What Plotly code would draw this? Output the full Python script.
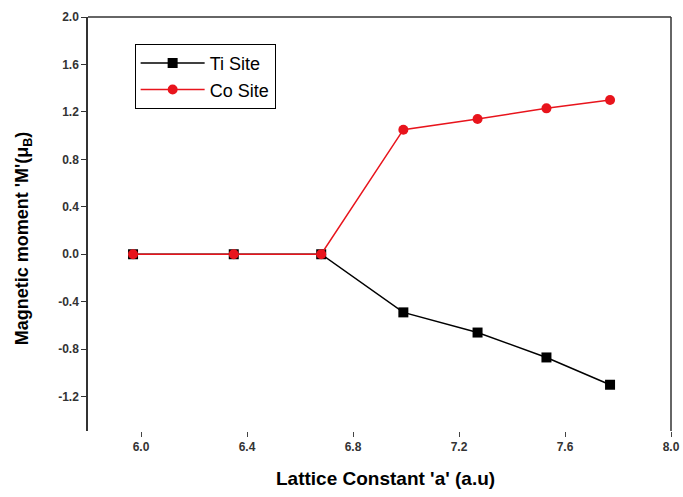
import plotly.graph_objects as go

lattice = [5.97, 6.35, 6.68, 6.99, 7.27, 7.53, 7.77]
ti_site = [0.0, 0.0, 0.0, -0.49, -0.66, -0.87, -1.10]
co_site = [0.0, 0.0, 0.0, 1.05, 1.14, 1.23, 1.30]
x_ticks = [6.0, 6.4, 6.8, 7.2, 7.6, 8.0]
y_ticks = [-1.2, -0.8, -0.4, 0.0, 0.4, 0.8, 1.2, 1.6, 2.0]

FONT = "Liberation Sans, Arial, sans-serif"

fig = go.Figure()
fig.add_trace(go.Scatter(x=lattice, y=ti_site, mode="lines+markers", name="Ti Site",
                         line=dict(color="black", width=1.5),
                         marker=dict(symbol="square", size=10, color="black")))
fig.add_trace(go.Scatter(x=lattice, y=co_site, mode="lines+markers", name="Co Site",
                         line=dict(color="#e8141c", width=1.5),
                         marker=dict(symbol="circle", size=10, color="#e8141c")))

fig.update_layout(
    width=683, height=497,
    margin=dict(l=88, r=12, t=17, b=66, autoexpand=False),
    paper_bgcolor="white", plot_bgcolor="white",
    font=dict(family=FONT, color="#222"),
    showlegend=True,
    legend=dict(x=0.08, y=0.935, xanchor="left", yanchor="top",
                bgcolor="white", bordercolor="black", borderwidth=1,
                font=dict(size=18, color="black", family=FONT), tracegroupgap=0,
                itemwidth=64),
    xaxis=dict(range=[5.8, 8.0], tickvals=x_ticks, ticktext=[f"<b>{v:.1f}</b>" for v in x_ticks],
               showgrid=False, zeroline=False, showline=False, automargin=False,
               ticks="outside", ticklen=5, tickcolor="#444",
               tickfont=dict(size=12, family=FONT, color="#333")),
    yaxis=dict(range=[-1.49, 2.0], tickvals=y_ticks, ticktext=[f"<b>{v:.1f}</b>" for v in y_ticks],
               showgrid=False, zeroline=False, showline=True, linecolor="#333", linewidth=1.5,
               automargin=False,
               ticks="outside", ticklen=5, tickcolor="#333",
               tickfont=dict(size=12, family=FONT, color="#333")),
    annotations=[
        dict(text="<b>Lattice Constant 'a' (a.u)</b>", xref="paper", yref="paper",
             x=0.51, y=-0.115, xanchor="center", yanchor="middle", showarrow=False,
             font=dict(size=19, color="black", family=FONT)),
        dict(text="<b>Magnetic moment 'M'(μ<sub>B</sub>)</b>", xref="paper", yref="paper",
             x=-0.11, y=0.465, xanchor="center", yanchor="middle", showarrow=False,
             textangle=-90, font=dict(size=18, color="black", family=FONT)),
    ],
    shapes=[
        dict(type="line", xref="paper", yref="paper", x0=0, x1=1, y0=1, y1=1,
             line=dict(color="#333", width=1.5)),
        dict(type="line", xref="paper", yref="paper", x0=1, x1=1, y0=0, y1=1,
             line=dict(color="#333", width=1.5)),
    ],
)
fig.write_html("out.html")
